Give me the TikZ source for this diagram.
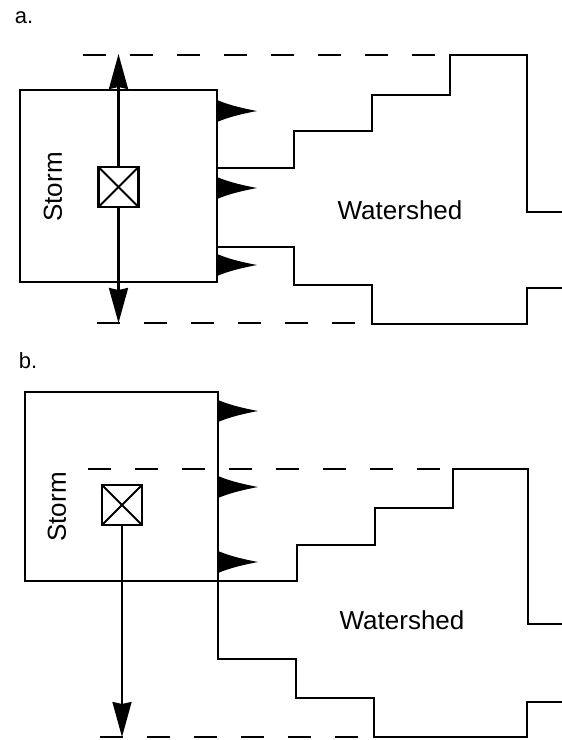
\documentclass[tikz,border=0pt]{standalone}
\usepackage{fontspec}
\setmainfont{Liberation Sans}
\usetikzlibrary{arrows.meta}
\tikzstyle{stormbox} = [draw, line width=2.6pt, inner sep=0pt, outer sep=0pt]
\tikzstyle{gauge}    = [draw, line width=2.6pt, minimum size=40pt, inner sep=0pt, outer sep=0pt, fill=white,
                        path picture={\draw[line width=2pt] (path picture bounding box.north west) -- (path picture bounding box.south east)
                                      (path picture bounding box.north east) -- (path picture bounding box.south west);}]
\tikzstyle{border}   = [line width=2.6pt, line join=miter]
\tikzstyle{divide}   = [line width=2.6pt, dash pattern=on 23pt off 24pt]
\tikzstyle{track}    = [line width=2.2pt, -{Stealth[length=35pt, width=19pt, inset=2pt]}]
\tikzstyle{txt}      = [font=\fontsize{26}{30}\selectfont, inner sep=0pt]
\tikzstyle{tag}      = [font=\fontsize{22}{26}\selectfont, inner sep=0pt]
\tikzset{flag/.pic={\fill (0,-11) .. controls (13,-5.5) and (27,-2.5) .. (40,0) .. controls (27,2.5) and (13,5.5) .. (0,11) -- cycle;}}

\begin{document}
\begin{tikzpicture}[x=1pt, y=-1pt]
\useasboundingbox (0,0) rectangle (562,740);

% a.
\node[tag] (tagA) at (24,18) {a.};
\node[stormbox, minimum width=197pt, minimum height=192pt] (stormA) at (118.5,186) {};
\node[txt, rotate=90] (nameA) at (53,187) {Storm};
\node[gauge] (gaugeA) at (118.5,187) {};
\coordinate (topA) at (118.5,54);
\coordinate (botA) at (118.5,323);
\draw[track] (gaugeA.north) -- (topA);
\draw[track] (gaugeA.south) -- (botA);
\foreach \y in {111,188,265} \pic at (217,\y) {flag};

% watershed a.
\draw[border] (217,168) -- (294,168) -- (294,131) -- (372,131) -- (372,95) -- (450,95) -- (450,55)
              -- (527,55) -- (527,212) -- (562,212);
\draw[border] (217,247) -- (294,247) -- (294,285) -- (372,285) -- (372,324) -- (527,324) -- (527,288) -- (562,288);
\draw[divide] (83,55) -- (450,55);
\draw[divide] (97,323) -- (372,323);
\node[txt] (shedA) at (400,210) {Watershed};

% b.
\node[tag] (tagB) at (28,361) {b.};
\node[stormbox, minimum width=193pt, minimum height=189pt] (stormB) at (121.5,486.5) {};
\node[txt, rotate=90] (nameB) at (57,507) {Storm};
\node[gauge] (gaugeB) at (122,505) {};
\coordinate (botB) at (122,737);
\draw[track] (gaugeB.south) -- (botB);
\foreach \y in {411,487,562} \pic at (218,\y) {flag};

% watershed b.
\draw[border] (218,581) -- (297,581) -- (297,545) -- (375,545) -- (375,508) -- (453,508) -- (453,469)
              -- (528,469) -- (528,624) -- (562,624);
\draw[border] (218,581) -- (218,659) -- (296,659) -- (296,698) -- (374,698) -- (374,737) -- (527,737) -- (527,702) -- (562,702);
\draw[divide] (88,469) -- (453,469);
\draw[divide] (100,737) -- (374,737);
\node[txt] (shedB) at (402,620) {Watershed};

\end{tikzpicture}
\end{document}
